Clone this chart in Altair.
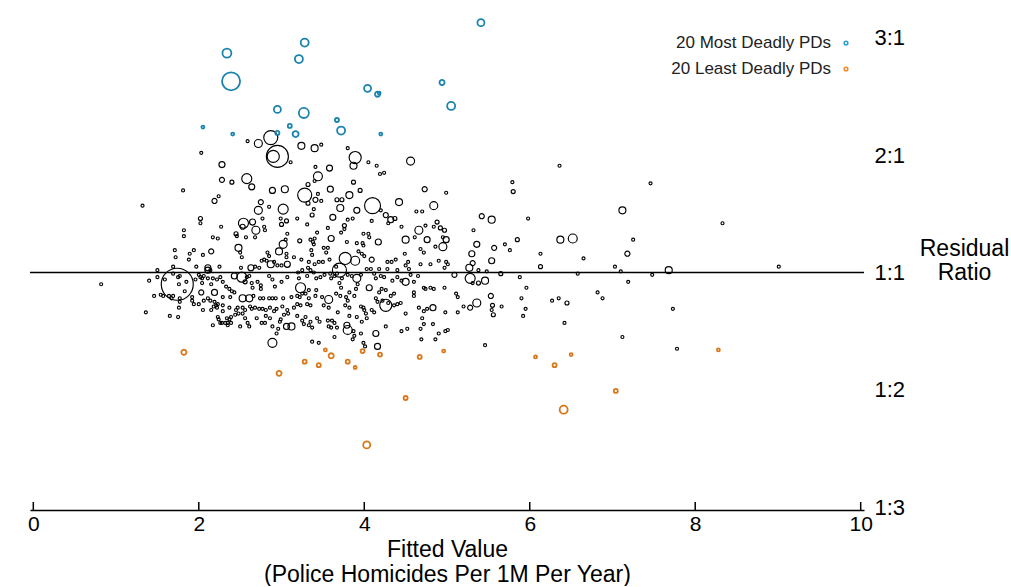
import altair as alt
import pandas as pd

# ---------------- data ----------------
x_ticks = [0, 2, 4, 6, 8, 10]
ratio_values = [-2, -1, 0, 1, 2]
ratio_labels = ["1:3", "1:2", "1:1", "2:1", "3:1"]
legend_labels = ["20 Most Deadly PDs", "20 Least Deadly PDs"]
baseline_ratio = [0]

# (fitted value, residual ratio position, population in thousands)
most_deadly = [
    (5.41, 2.13, 135), (2.34, 1.87, 220), (3.28, 1.96, 175), (3.21, 1.82, 175),
    (2.39, 1.63, 890), (4.04, 1.57, 135), (4.16, 1.52, 70), (4.94, 1.62, 70),
    (5.05, 1.42, 175), (2.95, 1.39, 135), (3.27, 1.36, 275), (2.05, 1.24, 25),
    (2.41, 1.18, 25), (3.10, 1.25, 44), (2.95, 1.19, 44), (3.17, 1.18, 100),
    (3.67, 1.30, 44), (3.72, 1.21, 175), (4.20, 1.18, 25), (4.18, 1.53, 25),
]

least_deadly = [
    (1.82, -0.68, 70), (2.97, -0.86, 70), (3.28, -0.76, 44), (3.45, -0.79, 44),
    (3.53, -0.66, 25), (3.60, -0.71, 70), (3.80, -0.76, 44), (3.89, -0.81, 25),
    (3.98, -0.67, 44), (4.19, -0.70, 44), (4.67, -0.72, 44), (4.96, -0.67, 25),
    (4.50, -1.07, 44), (4.03, -1.47, 135), (6.07, -0.72, 25), (6.30, -0.79, 44),
    (6.50, -0.70, 25), (7.04, -1.01, 44), (6.41, -1.17, 175), (8.28, -0.66, 25),
]

other_pds = [
    (2.59, 1.12, 25), (2.72, 1.10, 175), (2.87, 1.15, 540), (2.95, 0.99, 1330), (2.90, 0.99, 400),
    (3.11, 0.94, 25), (2.03, 1.02, 25), (2.28, 0.92, 100), (2.28, 0.79, 70), (2.40, 0.77, 44),
    (2.58, 0.80, 275), (2.64, 0.73, 100), (1.81, 0.70, 25), (2.89, 0.70, 100), (3.04, 0.71, 135),
    (1.32, 0.57, 25), (2.24, 0.65, 25), (2.19, 0.61, 70), (2.75, 0.60, 70), (2.85, 0.56, 25),
    (2.72, 0.53, 175), (3.02, 0.54, 275), (2.02, 0.46, 44), (2.02, 0.42, 25), (2.77, 0.46, 25),
    (2.99, 0.46, 25), (3.06, 0.44, 44), (2.27, 0.39, 25), (2.54, 0.42, 275), (2.53, 0.39, 70),
    (2.65, 0.43, 100), (2.69, 0.36, 175), (2.79, 0.39, 25), (2.80, 0.36, 25), (3.00, 0.41, 44),
    (1.82, 0.36, 25), (3.07, 0.33, 25), (2.45, 0.33, 44),
    (3.24, 1.08, 135), (3.40, 1.06, 135), (3.48, 1.09, 25), (3.80, 1.06, 25), (3.89, 0.98, 400),
    (3.87, 0.91, 135), (4.05, 0.94, 25), (4.15, 0.91, 25), (4.19, 0.84, 25), (4.24, 0.85, 25),
    (4.56, 0.95, 175), (3.41, 0.90, 25), (3.58, 0.89, 100), (3.44, 0.82, 220), (3.40, 0.78, 25),
    (3.32, 0.75, 44), (3.87, 0.77, 44), (3.59, 0.71, 100), (3.95, 0.70, 44), (3.82, 0.66, 135),
    (3.28, 0.66, 540), (3.44, 0.67, 25), (3.41, 0.62, 70), (3.48, 0.61, 25), (3.32, 0.59, 44),
    (3.67, 0.62, 44), (3.73, 0.62, 44), (4.10, 0.57, 700), (4.42, 0.60, 135), (4.73, 0.71, 70),
    (4.99, 0.68, 25), (4.84, 0.57, 175), (3.71, 0.55, 135), (3.91, 0.53, 100), (3.39, 0.54, 25),
    (3.37, 0.49, 44), (3.19, 0.46, 25), (3.62, 0.47, 100), (3.80, 0.45, 25), (3.86, 0.46, 25),
    (4.20, 0.53, 25), (4.26, 0.49, 70), (4.32, 0.45, 100), (4.37, 0.46, 44), (4.09, 0.44, 25),
    (4.29, 0.42, 25), (4.63, 0.52, 25), (4.70, 0.52, 25), (4.45, 0.39, 25), (3.31, 0.41, 25),
    (3.56, 0.38, 25), (3.76, 0.40, 44), (3.76, 0.37, 25), (4.66, 0.36, 175), (4.74, 0.40, 25),
    (4.88, 0.43, 44), (4.92, 0.38, 44), (4.97, 0.36, 44), (4.84, 0.39, 25), (3.43, 0.34, 25),
    (3.72, 0.34, 25), (3.99, 0.33, 25), (4.05, 0.33, 25),
    (6.36, 0.91, 25), (5.79, 0.77, 25), (5.80, 0.69, 44), (5.42, 0.48, 70), (5.54, 0.45, 135),
    (5.98, 0.46, 25), (5.32, 0.36, 25), (7.12, 0.53, 135), (6.52, 0.29, 220), (6.37, 0.28, 135),
    (7.46, 0.76, 25), (8.33, 0.42, 25), (7.25, 0.28, 25), (7.18, 0.16, 70), (7.68, 0.02, 135),
    (9.01, 0.05, 25), (7.48, -0.02, 25), (7.19, -0.08, 25), (7.73, -0.31, 25), (7.78, -0.65, 25),
    (7.12, -0.55, 25), (6.42, -0.43, 25), (5.46, -0.62, 25),
    (5.36, 0.24, 100), (5.57, 0.21, 70), (5.70, 0.24, 25), (5.76, 0.19, 25), (5.85, 0.28, 44),
    (5.30, 0.16, 100), (5.31, 0.08, 70), (5.27, 0.04, 135), (5.54, 0.10, 100), (5.38, 0.02, 25),
    (5.48, 0.01, 25), (5.65, -0.01, 44), (6.13, 0.16, 25), (6.13, 0.05, 44), (6.65, 0.12, 25),
    (7.03, 0.05, 25), (7.10, 0.01, 25), (5.28, -0.05, 275), (5.38, -0.09, 44), (5.31, -0.09, 25),
    (5.46, -0.07, 135), (5.88, -0.04, 25), (5.96, -0.13, 25), (6.58, -0.01, 25), (5.53, -0.20, 70),
    (5.90, -0.22, 25), (5.36, -0.26, 175), (5.28, -0.30, 70), (5.20, -0.29, 25), (5.55, -0.28, 44),
    (5.54, -0.32, 25), (5.56, -0.36, 44), (5.66, -0.29, 25), (5.95, -0.31, 25), (5.92, -0.37, 25),
    (6.27, -0.24, 25), (6.35, -0.22, 25), (6.45, -0.26, 44), (6.82, -0.17, 25), (6.88, -0.22, 25),
    (0.82, -0.10, 25), (1.82, 0.31, 25), (1.71, 0.19, 25), (1.72, 0.13, 25), (1.50, 0.02, 25),
    (1.40, -0.07, 25), (1.50, -0.04, 25), (1.46, -0.20, 25), (1.36, -0.34, 25), (1.65, -0.37, 25),
    (1.75, -0.38, 25), (2.89, -0.60, 220),
    (2.17, 0.30, 25), (2.23, 0.29, 25), (2.46, 0.31, 25), (2.57, 0.30, 25), (2.68, 0.30, 25),
    (3.05, 0.28, 25), (3.02, 0.24, 175), (2.48, 0.21, 135), (2.15, 0.18, 70), (2.50, 0.17, 25),
    (1.94, 0.19, 25), (1.89, 0.16, 25), (2.97, 0.18, 135), (3.06, 0.16, 25), (2.05, 0.15, 25),
    (1.88, 0.11, 25), (2.52, 0.13, 25), (2.83, 0.17, 25), (2.85, 0.14, 25), (3.15, 0.13, 25),
    (2.79, 0.11, 25), (2.82, 0.10, 25), (2.76, 0.10, 25), (3.06, 0.13, 25), (2.91, 0.09, 25),
    (2.87, 0.07, 135), (1.69, 0.05, 25), (1.97, 0.05, 25), (2.11, 0.04, 100), (2.25, 0.05, 25),
    (2.51, 0.04, 25), (2.63, 0.04, 100), (2.68, 0.05, 25), (2.73, 0.04, 25), (2.95, 0.06, 25),
    (3.00, 0.06, 25), (3.07, 0.07, 100), (2.14, 0.02, 25), (1.74, -0.10, 2800), (1.59, -0.06, 25),
    (1.69, -0.01, 25), (1.75, -0.04, 25), (1.77, -0.03, 25), (1.76, -0.10, 25), (1.85, -0.08, 25),
    (1.83, -0.16, 25), (1.54, -0.19, 25), (1.57, -0.20, 25), (1.64, -0.20, 25), (1.67, -0.22, 25),
    (1.69, -0.20, 25), (1.77, -0.22, 25), (1.77, -0.25, 25), (1.92, -0.21, 25), (2.00, -0.02, 25),
    (2.02, -0.04, 25), (2.04, -0.05, 25), (2.06, -0.03, 25), (1.96, -0.06, 25), (2.04, -0.09, 25),
    (2.11, 0.02, 100), (2.17, -0.05, 25), (2.11, -0.05, 25), (2.22, -0.06, 25), (2.26, -0.04, 25),
    (2.29, -0.08, 25), (2.33, -0.12, 25), (2.37, -0.14, 25), (2.40, -0.16, 25), (2.43, -0.03, 100),
    (2.52, -0.04, 275), (2.56, -0.08, 44), (2.58, -0.04, 25), (2.61, -0.03, 25), (2.64, -0.09, 25),
    (2.65, -0.13, 25), (2.71, -0.08, 25), (2.75, -0.11, 25), (2.85, -0.03, 25), (2.89, -0.06, 25),
    (2.92, -0.12, 25), (3.00, -0.08, 25), (3.07, -0.04, 25), (2.75, -0.14, 25), (2.15, -0.10, 25),
    (2.03, -0.17, 70), (2.19, -0.17, 100), (2.29, -0.21, 25), (2.38, -0.21, 25), (2.43, -0.17, 25),
    (2.53, -0.22, 135), (2.61, -0.22, 135), (2.66, -0.20, 25), (2.74, -0.22, 25), (2.78, -0.22, 25),
    (2.85, -0.22, 25), (2.89, -0.22, 25), (2.93, -0.22, 25), (3.02, -0.22, 25), (3.12, -0.21, 25),
    (1.76, -0.30, 25), (1.92, -0.24, 25), (1.94, -0.27, 25), (2.00, -0.27, 25), (2.06, -0.24, 25),
    (2.11, -0.22, 25), (2.14, -0.24, 25), (2.19, -0.25, 25), (2.23, -0.27, 25), (2.21, -0.28, 25),
    (2.05, -0.32, 25), (2.15, -0.32, 25), (2.18, -0.29, 25), (2.22, -0.30, 25), (2.29, -0.28, 25),
    (2.37, -0.30, 25), (2.29, -0.33, 25), (2.45, -0.32, 25), (2.47, -0.30, 25), (2.53, -0.30, 25),
    (2.56, -0.32, 25), (2.62, -0.29, 25), (2.64, -0.31, 25), (2.68, -0.30, 25), (2.73, -0.31, 25),
    (2.77, -0.31, 25), (2.81, -0.32, 25), (2.86, -0.30, 25), (2.91, -0.33, 25), (2.94, -0.31, 25),
    (3.01, -0.29, 25), (3.07, -0.32, 25), (3.15, -0.30, 25), (2.23, -0.38, 25), (2.24, -0.40, 25),
    (2.26, -0.43, 25), (2.17, -0.45, 25), (2.28, -0.43, 25), (2.32, -0.43, 25), (2.35, -0.43, 25),
    (2.39, -0.43, 25), (2.37, -0.40, 25), (2.39, -0.38, 25), (2.34, -0.39, 25), (2.35, -0.45, 25),
    (2.44, -0.36, 25), (2.48, -0.35, 25), (2.53, -0.35, 25), (2.50, -0.46, 25), (2.56, -0.39, 25),
    (2.59, -0.43, 25), (2.61, -0.46, 25), (2.70, -0.39, 25), (2.76, -0.43, 25), (2.80, -0.43, 25),
    (2.89, -0.46, 25), (2.94, -0.52, 25), (2.96, -0.48, 25), (2.98, -0.42, 25), (2.99, -0.40, 25),
    (3.06, -0.46, 100), (3.12, -0.46, 135), (2.86, -0.39, 25), (2.81, -0.37, 25), (3.03, -0.36, 25),
    (3.08, -0.35, 25),
    (3.22, 0.27, 44), (3.35, 0.28, 25), (3.38, 0.26, 25), (3.40, 0.29, 25), (3.39, 0.24, 25),
    (3.60, 0.29, 100), (3.79, 0.26, 25), (3.91, 0.25, 25), (3.98, 0.25, 25), (3.99, 0.23, 25),
    (4.06, 0.30, 25), (4.17, 0.26, 100), (4.50, 0.28, 135), (4.61, 0.30, 25), (4.76, 0.28, 100),
    (4.95, 0.30, 25), (4.99, 0.28, 100), (4.95, 0.22, 175), (4.86, 0.22, 25), (4.68, 0.20, 25),
    (4.72, 0.17, 25), (4.49, 0.16, 25), (3.36, 0.19, 25), (3.37, 0.15, 25), (3.51, 0.21, 25),
    (3.56, 0.21, 25), (3.54, 0.17, 25), (3.24, 0.11, 25), (3.33, 0.09, 25), (3.32, 0.04, 25),
    (3.40, 0.07, 25), (3.45, 0.09, 25), (3.50, 0.09, 25), (3.58, 0.11, 25), (3.66, 0.05, 25),
    (3.77, 0.12, 400), (3.70, 0.02, 540), (3.89, 0.10, 220), (3.93, 0.18, 25), (3.97, 0.16, 25),
    (4.00, 0.14, 25), (4.03, 0.03, 25), (4.08, 0.03, 25), (4.09, 0.11, 70), (4.18, 0.03, 25),
    (4.28, 0.09, 25), (4.33, 0.09, 25), (4.38, 0.11, 25), (4.28, 0.03, 25), (4.40, 0.02, 25),
    (4.53, 0.09, 25), (4.50, 0.06, 25), (4.54, 0.03, 25), (4.68, 0.07, 25), (4.80, 0.07, 25),
    (4.90, 0.10, 25), (4.99, 0.09, 25), (5.01, 0.07, 25), (4.97, 0.04, 25), (5.09, -0.02, 70),
    (3.20, 0.00, 25), (3.25, 0.02, 25), (3.35, 0.02, 25), (3.21, -0.05, 25), (3.31, -0.03, 25),
    (3.39, 0.00, 25), (3.42, -0.05, 25), (3.47, -0.04, 25), (3.52, -0.02, 25), (3.59, -0.01, 25),
    (3.60, -0.05, 25), (3.64, -0.03, 25), (3.67, -0.01, 25), (3.73, -0.05, 25), (3.70, -0.09, 25),
    (3.72, -0.13, 25), (3.80, -0.02, 25), (3.85, -0.03, 25), (3.91, -0.05, 175), (3.96, -0.02, 25),
    (3.92, -0.10, 25), (4.06, -0.13, 100), (4.12, -0.01, 25), (4.14, -0.05, 25), (4.20, -0.03, 25),
    (4.24, -0.04, 25), (4.34, -0.07, 25), (4.40, -0.04, 25), (4.45, -0.07, 25), (4.50, -0.08, 135),
    (4.56, -0.02, 25), (4.65, -0.03, 25), (4.60, -0.08, 25), (4.72, -0.13, 25), (4.74, -0.14, 25),
    (4.80, -0.13, 25), (4.84, -0.14, 25), (4.97, -0.13, 25), (3.23, -0.13, 275), (3.19, -0.20, 25),
    (3.22, -0.21, 25), (3.25, -0.18, 25), (3.29, -0.18, 25), (3.33, -0.15, 25), (3.19, -0.27, 25),
    (3.23, -0.28, 25), (3.33, -0.22, 25), (3.31, -0.27, 25), (3.35, -0.28, 25), (3.41, -0.20, 25),
    (3.42, -0.15, 25), (3.49, -0.21, 25), (3.57, -0.23, 175), (3.51, -0.28, 25), (3.57, -0.30, 25),
    (3.66, -0.18, 25), (3.71, -0.20, 25), (3.78, -0.21, 25), (3.80, -0.24, 25), (3.82, -0.17, 25),
    (3.88, -0.20, 25), (3.90, -0.14, 25), (3.77, -0.28, 25), (3.82, -0.30, 25), (3.96, -0.29, 25),
    (3.99, -0.30, 25), (4.00, -0.32, 25), (4.02, -0.35, 25), (4.09, -0.32, 25), (4.12, -0.34, 25),
    (4.14, -0.22, 25), (4.16, -0.25, 25), (4.22, -0.24, 25), (4.18, -0.17, 25), (4.21, -0.14, 25),
    (4.26, -0.15, 25), (4.26, -0.28, 400), (4.29, -0.26, 25), (4.32, -0.20, 25), (4.36, -0.18, 25),
    (4.36, -0.28, 25), (4.40, -0.27, 25), (4.44, -0.26, 25), (4.60, -0.20, 25), (4.60, -0.17, 25),
    (4.50, -0.35, 25), (4.66, -0.30, 25), (4.72, -0.33, 25), (4.76, -0.31, 25), (4.83, -0.30, 100),
    (4.98, -0.34, 25), (5.11, -0.18, 25), (5.13, -0.21, 25), (5.13, -0.34, 25), (3.19, -0.37, 25),
    (3.25, -0.41, 25), (3.29, -0.38, 25), (3.35, -0.42, 25), (3.27, -0.44, 25), (3.33, -0.45, 25),
    (3.37, -0.47, 25), (3.43, -0.39, 25), (3.46, -0.42, 25), (3.56, -0.41, 25), (3.61, -0.41, 25),
    (3.64, -0.43, 25), (3.57, -0.46, 25), (3.60, -0.47, 25), (3.68, -0.34, 25), (3.67, -0.47, 25),
    (3.82, -0.37, 25), (3.91, -0.38, 25), (3.97, -0.42, 25), (3.79, -0.45, 100), (3.80, -0.49, 220),
    (3.87, -0.50, 25), (3.88, -0.54, 25), (3.86, -0.57, 25), (3.96, -0.52, 25), (4.14, -0.52, 100),
    (4.03, -0.39, 25), (4.26, -0.46, 25), (4.45, -0.50, 25), (4.52, -0.48, 25), (4.70, -0.39, 25),
    (4.72, -0.44, 25), (4.68, -0.48, 25), (4.83, -0.44, 25), (5.01, -0.49, 25), (4.98, -0.50, 25),
    (4.90, -0.52, 25), (3.37, -0.59, 25), (3.45, -0.60, 25), (3.64, -0.55, 25), (3.99, -0.60, 25),
    (4.01, -0.63, 25), (4.16, -0.63, 100), (4.69, -0.57, 25), (4.86, -0.57, 25),
]


def frame(rows):
    return pd.DataFrame(rows, columns=["fitted", "ratio", "pop"])


df_other = frame(other_pds)
df_most = frame(most_deadly)
df_least = frame(least_deadly)
df_ticks = pd.DataFrame({"fitted": x_ticks, "ratio": [ratio_values[0]] * len(x_ticks)})
df_base = pd.DataFrame({"ratio": baseline_ratio, "fitted": [x_ticks[0]]})

# ---------------- styling ----------------
FONT = "Liberation Sans"
W, H = 834, 500
BLUE = "#1a84ae"
ORANGE = "#d8781b"
BLUE_LEG = "#2a9fd4"
ORANGE_LEG = "#f28a26"

xscale = alt.Scale(domain=[-0.04, 10.04], nice=False, zero=False)
yscale = alt.Scale(domain=[-2.025, 2.238], nice=False, zero=False)
sscale = alt.Scale(type="linear", domain=[0, 2800], range=[0, 1024], zero=True)

label_expr = " : ".join(
    f"datum.value == {v} ? '{l}'" for v, l in zip(ratio_values, ratio_labels)
) + " : ''"

xaxis = alt.Axis(
    values=x_ticks, format="d", grid=False, ticks=False, tickSize=0,
    domainColor="black", domainWidth=1.5, labelFlush=False,
    labelFont=FONT, labelFontSize=21, labelColor="black", labelPadding=3,
    title=["Fitted Value", "(Police Homicides Per 1M Per Year)"],
    titleFont=FONT, titleFontSize=23, titleFontWeight="normal", titleColor="black",
    titlePadding=4, titleLineHeight=25,
)
yaxis = alt.Axis(
    orient="right", values=ratio_values, labelExpr=label_expr,
    domain=False, ticks=False, grid=False,
    labelFont=FONT, labelFontSize=22, labelColor="black", labelPadding=10,
    title=["Residual", "Ratio"], titleAngle=0, titleAlign="center",
    titleBaseline="middle", titleX=100, titleY=238,
    titleFont=FONT, titleFontSize=23, titleFontWeight="normal",
    titleColor="black", titleLineHeight=24,
)

X = alt.X("fitted:Q", scale=xscale, axis=xaxis)
Y = alt.Y("ratio:Q", scale=yscale, axis=yaxis)
size_enc = alt.Size("pop:Q", scale=sscale, legend=None)

baseline = alt.Chart(df_base).mark_rule(color="black", strokeWidth=1.6).encode(
    y=Y, x=alt.value(0), x2=alt.value(W),
)

tick_marks = alt.Chart(df_ticks).mark_rule(color="black", strokeWidth=1.5).encode(
    x=X, y=alt.value(H - 8), y2=alt.value(H),
)


def points(df, color, sw):
    return alt.Chart(df).mark_point(
        shape="circle", filled=False, color=color, strokeWidth=sw, opacity=1
    ).encode(x=X, y=Y, size=size_enc)


other_layer = points(df_other, "black", 1.15)
most_layer = points(df_most, BLUE, 1.8)
least_layer = points(df_least, ORANGE, 1.8)

leg_df = pd.DataFrame({"label": legend_labels})
leg_text1 = alt.Chart(leg_df.iloc[[0]]).mark_text(
    align="right", baseline="middle", font=FONT, fontSize=17, color="#222222"
).encode(text="label:N", x=alt.value(801), y=alt.value(33))
leg_text2 = alt.Chart(leg_df.iloc[[1]]).mark_text(
    align="right", baseline="middle", font=FONT, fontSize=17, color="#222222"
).encode(text="label:N", x=alt.value(801), y=alt.value(59))
leg_sym1 = alt.Chart(leg_df.iloc[[0]]).mark_point(
    shape="circle", filled=False, color=BLUE_LEG, strokeWidth=1.5, opacity=1
).encode(x=alt.value(816), y=alt.value(33), size=alt.value(14))
leg_sym2 = alt.Chart(leg_df.iloc[[1]]).mark_point(
    shape="circle", filled=False, color=ORANGE_LEG, strokeWidth=1.5, opacity=1
).encode(x=alt.value(816), y=alt.value(59), size=alt.value(14))

chart = alt.layer(
    baseline, tick_marks, other_layer, most_layer, least_layer,
    leg_text1, leg_text2, leg_sym1, leg_sym2,
).properties(
    width=W, height=H,
    padding={"left": 27, "top": 10, "right": 0, "bottom": 0},
    background="white",
).configure_view(stroke=None)

chart.save("out.html", embed_options={"renderer": "svg", "actions": False})
